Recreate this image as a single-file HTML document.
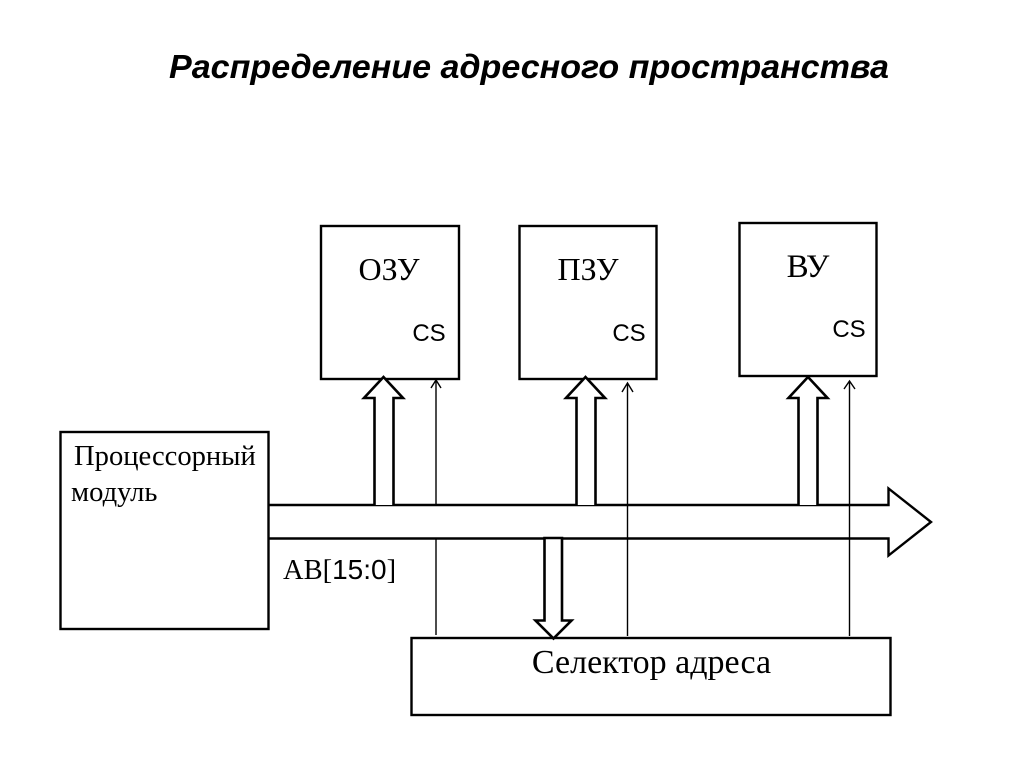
<!DOCTYPE html>
<html>
<head>
<meta charset="utf-8">
<style>
html,body{margin:0;padding:0;background:#fff;width:1024px;height:768px;overflow:hidden}
svg{display:block}
.s{font-family:"Liberation Serif",serif;fill:#000}
.a{font-family:"Liberation Sans",sans-serif;fill:#000}
</style>
</head>
<body>
<svg width="1024" height="768" viewBox="0 0 1024 768" xmlns="http://www.w3.org/2000/svg">
<rect width="1024" height="768" fill="#fff"/>
<text class="a" x="169" y="78" font-size="33.5" font-weight="bold" font-style="italic" textLength="720" lengthAdjust="spacingAndGlyphs">Распределение адресного пространства</text>

<g fill="#fff" stroke="#000" stroke-width="2.4">
<rect x="321" y="226" width="138" height="153"/>
<rect x="519.5" y="226" width="137" height="153"/>
<rect x="739.5" y="223" width="137" height="153"/>
<rect x="60.5" y="432" width="208" height="197"/>
<rect x="411.5" y="638" width="479" height="77"/>
</g>

<!-- thin lines -->
<g stroke="#000" stroke-width="1.4" fill="none">
<path d="M436 505V380M431 388L436 380L441 388"/>
<path d="M436 539V635"/>
<path d="M627.5 636V383M622 392L627.5 383L633 392"/>
<path d="M849.5 636V381M844 389L849.5 381L855 389"/>
</g>

<!-- bus -->
<g stroke="#000" stroke-width="2.4" fill="none" stroke-linejoin="miter">
<path d="M269 505H888.5V488.5L931 522L888.5 555.5V538.5H269"/>
</g>

<!-- block arrows -->
<g stroke="#000" stroke-width="2.6" fill="#fff" stroke-linejoin="miter">
<path d="M374.5 505V398H364L383.5 377L403 398H393.5V505"/>
<path d="M576.5 505V398H566L585.5 377L605 398H595.5V505"/>
<path d="M798.5 505V398H788.5L808 377L827.5 398H817.5V505"/>
<path d="M544.5 538H562V620.5H571.5L553.5 638.5L535.5 620.5H544.5Z"/>
</g>

<text class="s" x="389" y="280" font-size="32" text-anchor="middle">ОЗУ</text>
<text class="s" x="588" y="280" font-size="32" text-anchor="middle">ПЗУ</text>
<text class="s" x="808" y="277" font-size="33" text-anchor="middle">ВУ</text>
<text class="a" x="429" y="341" font-size="24" text-anchor="middle">CS</text>
<text class="a" x="629" y="341" font-size="24" text-anchor="middle">CS</text>
<text class="a" x="849" y="337" font-size="24" text-anchor="middle">CS</text>
<text class="s" x="74" y="465" font-size="28.6">Процессорный</text>
<text class="s" x="71" y="501" font-size="28.6">модуль</text>
<text class="s" x="283" y="579" font-size="28.5">АВ[<tspan font-family="Liberation Sans" font-size="28">15:0</tspan>]</text>
<text class="s" x="651.5" y="673" font-size="34" text-anchor="middle">Селектор адреса</text>
</svg>
</body>
</html>
